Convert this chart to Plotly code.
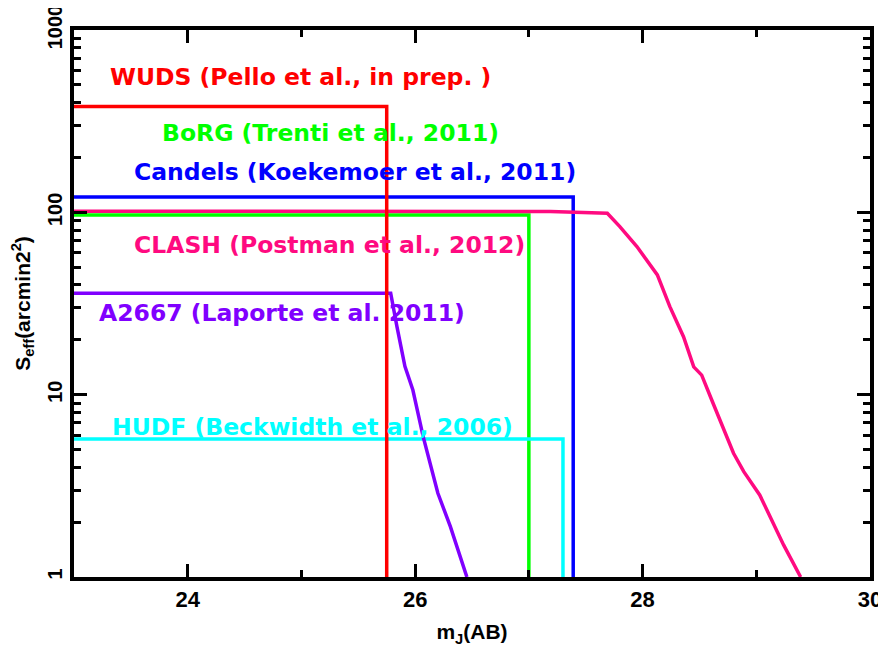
import numpy as np
import plotly.graph_objects as go

# surveys: magnitude limit (x) vs effective area (y, arcmin^2)
wuds_x = [23.0, 25.75, 25.75]
wuds_y = [380, 380, 1]

borg_x = [23.0, 27.0, 27.0]
borg_y = [96.8, 96.8, 1]

candels_x = [23.0, 27.39, 27.39]
candels_y = [121.4, 121.4, 1]

hudf_x = [23.0, 27.3, 27.3]
hudf_y = [5.71, 5.71, 1]

clash_x = [23.0, 27.19, 27.69, 27.80, 27.95, 28.13, 28.24, 28.36, 28.45, 28.52,
           28.62, 28.80, 28.89, 29.03, 29.24, 29.39]
clash_y = [101.5, 100.9, 98.9, 83.5, 64.9, 45.4, 30.4, 20.8, 14.2, 12.8,
           8.97, 4.77, 3.78, 2.82, 1.50, 1.0]

a2667_x = [23.0, 25.785, 25.84, 25.91, 25.98, 26.07, 26.20, 26.31, 26.455]
a2667_y = [36.0, 36.0, 23.6, 14.3, 10.6, 5.9, 2.88, 1.89, 1.0]

y_tickvals = [1, 10, 100, 1000]
y_ticktext = ["1", "10", "100", "1000"]

# (name, x, y, color) traces drawn in this order
series = [
    ("Candels", candels_x, candels_y, "#0000ff"),
    ("BoRG", borg_x, borg_y, "#00ff00"),
    ("HUDF", hudf_x, hudf_y, "#00ffff"),
    ("CLASH", clash_x, clash_y, "#ff0a80"),
    ("A2667", a2667_x, a2667_y, "#8000ff"),
    ("WUDS", wuds_x, wuds_y, "#ff0000"),
]

# label text, left x, middle y, color
labels = [
    ("WUDS (Pello et al., in prep. )", 23.30, 555, "#ff0000"),
    ("BoRG (Trenti et al., 2011)", 23.756, 272, "#00ff00"),
    ("Candels (Koekemoer et al., 2011)", 23.507, 167, "#0000ff"),
    ("CLASH (Postman et al., 2012)", 23.507, 66.2, "#ff0a80"),
    ("A2667 (Laporte et al. 2011)", 23.20, 28.0, "#8000ff"),
    ("HUDF (Beckwidth et al., 2006)", 23.317, 6.67, "#00ffff"),
]

fig = go.Figure()
for name, xs, ys, col in series:
    fig.add_trace(go.Scatter(x=xs, y=ys, mode="lines", name=name,
                             line=dict(color=col, width=3.5),
                             showlegend=False, cliponaxis=True))

for txt, lx, ly, col in labels:
    fig.add_annotation(x=lx, y=np.log10(ly), text=txt, showarrow=False,
                       xanchor="left", yanchor="middle",
                       font=dict(family="DejaVu Sans", size=23.5,
                                 color=col, weight="bold"))

xtick_font = dict(family="Liberation Sans", size=22, color="black", weight="bold")
ytick_font = dict(family="Liberation Sans", size=20, color="black", weight="bold")
title_font = dict(family="Liberation Sans", size=21, color="black", weight="bold")

fig.update_xaxes(range=[23, 30], tick0=0, dtick=2, automargin=False,
                 ticklabeloverflow="allow",
                 ticks="inside", ticklen=13, tickwidth=3, tickcolor="black",
                 minor=dict(ticks="inside", ticklen=7, tickwidth=3,
                            tickcolor="black", dtick=1),
                 showline=True, linewidth=4, linecolor="black", mirror="allticks",
                 showgrid=False, zeroline=False, tickfont=xtick_font,
                 title=dict(text="m<sub>J</sub>(AB)", font=title_font, standoff=14))

fig.update_yaxes(type="log", range=[0, 3], automargin=False,
                 ticklabeloverflow="allow",
                 tickvals=y_tickvals, ticktext=y_ticktext, tickangle=-90,
                 ticks="inside", ticklen=13, tickwidth=3, tickcolor="black",
                 minor=dict(ticks="inside", ticklen=7, tickwidth=3,
                            tickcolor="black", dtick="D1"),
                 showline=True, linewidth=4, linecolor="black", mirror="allticks",
                 showgrid=False, zeroline=False, tickfont=ytick_font,
                 title=dict(text="S<sub>eff</sub>(arcmin2<sup>2</sup>)",
                            font=title_font, standoff=10))

# the page body puts the figure 8px in from the corner, so it is made smaller
fig.update_layout(
    width=878, height=643,
    margin=dict(l=66, r=16, t=22, b=74),
    paper_bgcolor="white", plot_bgcolor="white",
    showlegend=False,
)

fig.write_html("out.html", config={"displayModeBar": False})
